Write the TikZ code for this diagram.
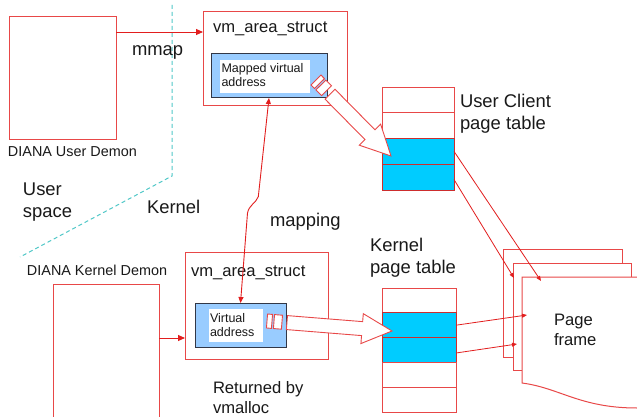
\documentclass[tikz,border=0pt]{standalone}
\usepackage{fontspec}
\setmainfont{Liberation Sans}
\usetikzlibrary{calc,arrows.meta}
\definecolor{bred}{RGB}{232,72,72}
\definecolor{ared}{RGB}{226,30,30}
\definecolor{rowred}{RGB}{205,45,45}
\definecolor{lblue}{RGB}{153,204,255}
\definecolor{rowcyan}{RGB}{0,204,255}
\definecolor{dashcol}{RGB}{80,200,200}
\definecolor{boxgrey}{RGB}{50,55,70}
\definecolor{txt}{RGB}{25,25,25}
\newcommand\stripedarrow[2]{%
  \path ($(#1)!5pt!(#2)$) coordinate (sa1)
        ($(#1)!7pt!(#2)$) coordinate (sa2)
        ($(#1)!15pt!(#2)$) coordinate (sa3)
        ($(#1)!20pt!(#2)$) coordinate (sa4)
        ($(#2)!30pt!(#1)$) coordinate (sah);
  \draw[barrow] ($(#1)!7pt!90:(#2)$) -- ($(sa1)!7pt!90:(#2)$) -- ($(sa1)!7pt!-90:(#2)$) -- ($(#1)!7pt!-90:(#2)$) -- cycle;
  \draw[barrow] ($(sa2)!7pt!90:(#2)$) -- ($(sa3)!7pt!90:(#2)$) -- ($(sa3)!7pt!-90:(#2)$) -- ($(sa2)!7pt!-90:(#2)$) -- cycle;
  \draw[barrow] ($(sa4)!7pt!90:(#2)$) -- ($(sah)!7pt!90:(#2)$) -- ($(sah)!15pt!90:(#2)$) -- (#2) -- ($(sah)!15pt!-90:(#2)$) -- ($(sah)!7pt!-90:(#2)$) -- ($(sa4)!7pt!-90:(#2)$) -- cycle;
}
\begin{document}
\begin{tikzpicture}[x=1pt,y=-1pt, line join=miter,
  box/.style={draw=bred, line width=1pt, fill=white, inner sep=0, outer sep=0, anchor=north west},
  bluebox/.style={draw=boxgrey, line width=1pt, fill=lblue, inner sep=0, outer sep=0, anchor=north west},
  whitebox/.style={fill=white, inner sep=0, outer sep=0, anchor=north west},
  trow/.style={draw=bred, line width=0.8pt, fill=white, inner sep=0, outer sep=0, anchor=north west},
  crow/.style={trow, fill=rowcyan, draw=rowred},
  arr/.style={draw=ared, line width=0.9pt, -{Triangle[length=7pt,width=6pt]}},
  sarr/.style={draw=ared, line width=0.8pt, -{Triangle[length=5pt,width=4pt]}},
  barrow/.style={draw=bred, line width=0.9pt, fill=white},
  lbl/.style={inner sep=0, outer sep=0, anchor=base west, text=txt},
  fL/.style={font=\fontsize{18.4}{22}\selectfont},
  fM/.style={font=\fontsize{16.6}{20}\selectfont},
  fD/.style={font=\fontsize{14.4}{17}\selectfont},
  fS/.style={font=\fontsize{12.5}{14}\selectfont},
]
\useasboundingbox (0,0) rectangle (637,417);
\clip (0,0) rectangle (637,417);
\fill[white] (0,0) rectangle (637,417);

% separator
\coordinate (d1) at (172,5);
\coordinate (d2) at (172,176);
\coordinate (d3) at (20,257);
\draw[dashcol, line width=1pt, dash pattern=on 4pt off 3pt] (d1) -- (d2) -- (d3);

% user side
\node[box, minimum width=107pt, minimum height=123pt] (udem) at (9,17) {};
\node[lbl, fD] (udeml) at (8,157) {DIANA User Demon};

\node[box, minimum width=144pt, minimum height=94pt] (vmu) at (203,12) {};
\node[lbl, fM] (vmul) at (213,33) {vm\_area\_struct};
\node[bluebox, minimum width=116pt, minimum height=44pt] (ubl) at (211,54) {};
\node[whitebox, minimum width=90pt, minimum height=33pt] (uwh) at (220,60) {};
\node[lbl, fS] (uwl1) at (221.5,73) {Mapped virtual};
\node[lbl, fS] (uwl2) at (221.5,87) {address};

\draw[arr] ([yshift=-15pt]udem.north east) coordinate (m1) -- (m1 -| vmu.west);
\node[lbl, fL] (mmapl) at (132,56) {mmap};

\node[lbl, fL] (us1) at (23,195) {User};
\node[lbl, fL] (us2) at (23,217) {space};
\node[lbl, fL] (kern) at (147,213) {Kernel};
\node[lbl, fL] (mapl) at (270,226) {mapping};

% user page table
\node[trow, minimum width=72pt, minimum height=25.75pt] (u1) at (382,87) {};
\node[trow, minimum width=72pt, minimum height=25.75pt] (u2) at (u1.south west) {};
\node[crow, minimum width=72pt, minimum height=25.75pt] (u3) at (u2.south west) {};
\node[crow, minimum width=72pt, minimum height=25.75pt] (u4) at (u3.south west) {};
\node[lbl, fL] (ucl1) at (460,108) {User Client};
\node[lbl, fL] (ucl2) at (460,130) {page table};

% kernel side
\node[lbl, fD] (kdeml) at (27,275) {DIANA Kernel Demon};
\node[box, minimum width=106pt, minimum height=146pt] (kdem) at (53,284) {};

\node[box, minimum width=143pt, minimum height=107pt] (vmk) at (185,252) {};
\node[lbl, fM] (vmkl) at (191,276) {vm\_area\_struct};
\node[bluebox, minimum width=91pt, minimum height=44pt] (kbl) at (195,303) {};
\node[whitebox, minimum width=54pt, minimum height=33pt] (kwh) at (209,309) {};
\node[lbl, fS] (kwl1) at (210,322) {Virtual};
\node[lbl, fS] (kwl2) at (210,336) {address};

\draw[arr] ([yshift=-54pt]kdem.north east) coordinate (k0) -- (k0 -| vmk.west);

\node[lbl, fM] (ret1) at (213,393) {Returned by};
\node[lbl, fM] (ret2) at (213,413) {vmalloc};

% kernel page table
\node[trow, minimum width=74pt, minimum height=24.8pt] (k1) at (382,288) {};
\node[crow, minimum width=74pt, minimum height=24.8pt] (k2) at (k1.south west) {};
\node[crow, minimum width=74pt, minimum height=24.8pt] (k3) at (k2.south west) {};
\node[trow, minimum width=74pt, minimum height=24.8pt] (k4) at (k3.south west) {};
\node[trow, minimum width=74pt, minimum height=24.8pt] (k5) at (k4.south west) {};
\node[lbl, fL] (kpt1) at (370,251) {Kernel};
\node[lbl, fL] (kpt2) at (370,273) {page table};

% page frames
\node[box, minimum width=119pt, minimum height=108pt] (pf1) at (503,249) {};
\node[box, minimum width=118pt, minimum height=107pt] (pf2) at (513,263) {};
\draw[draw=bred, line width=1pt, fill=white] (522,277) coordinate (pf3) -- (645,277) -- (645,408) -- (637,408)
  .. controls (580,408) and (560,388) .. (522,383) -- cycle;
\node[lbl, fM] (pfl1) at (554,325) {Page};
\node[lbl, fM] (pfl2) at (554,345) {frame};

% mapping arrow
\draw[draw=ared, line width=0.9pt, {Triangle[length=6pt,width=5pt]}-{Triangle[length=6pt,width=5pt]}]
  (ubl.south) -- (258.3,196.7) .. controls (256,203) and (249,205) .. (247.5,213) -- (kbl.north);

% arrows to page frames
\coordinate (t1) at (541,281);
\coordinate (t2) at (514,278);
\coordinate (t3) at (527,315);
\coordinate (t4) at (517,344);
\draw[sarr] (u3.east) -- (t1);
\draw[sarr] ([yshift=-2.4pt]u4.east) -- (t2);
\draw[sarr] (k2.east) -- (t3);
\draw[sarr] ([yshift=-3pt]k3.east) -- (t4);

% block arrows
\coordinate (ba1) at (316,80);
\coordinate (bb1) at (391,156);
\coordinate (ba2) at (267,321);
\coordinate (bb2) at (392,331);
\stripedarrow{ba1}{bb1}
\stripedarrow{ba2}{bb2}
\end{tikzpicture}
\end{document}
